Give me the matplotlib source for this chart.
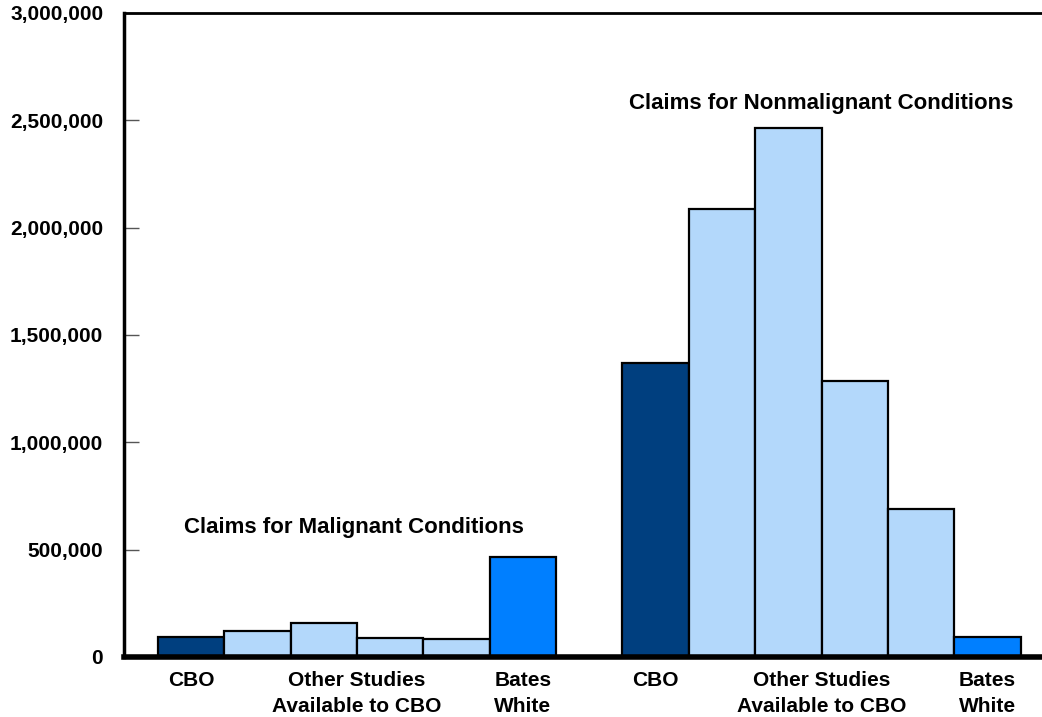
import matplotlib
matplotlib.use("Agg")
import matplotlib.pyplot as plt

# data
malignant = [95000, 120000, 160000, 90000, 85000, 465000]
nonmalignant = [1370000, 2087000, 2465000, 1286000, 689000, 93000]
bar_colors = ["#003F7F", "#B3D8FB", "#B3D8FB", "#B3D8FB", "#B3D8FB", "#007FFF"]
group_labels = ["CBO", "Other Studies\nAvailable to CBO", "Bates\nWhite"]
yticks = [0, 500000, 1000000, 1500000, 2000000, 2500000, 3000000]

plt.rcParams['font.family'] = ['Liberation Sans', 'DejaVu Sans']

fig = plt.figure(figsize=(10.42, 7.17), dpi=100)
ax = fig.add_axes([0.119, 0.0837, 0.881, 0.8982])

x1 = list(range(6))
x2 = [i + 7 for i in range(6)]
ax.bar(x1, malignant, width=1.0, color=bar_colors, edgecolor="black", linewidth=1.6, zorder=2)
ax.bar(x2, nonmalignant, width=1.0, color=bar_colors, edgecolor="black", linewidth=1.6, zorder=2)

ax.set_xlim(-1.01, 12.82)
ax.set_ylim(0, 3000000)

ax.set_yticks(yticks)
ax.set_yticklabels([f"{v:,}" for v in yticks], fontsize=15, fontweight="bold")
ax.tick_params(axis="y", direction="in", length=11, width=1, color="#555555", pad=15)

ax.set_xticks([0, 2.5, 5, 7, 9.5, 12])
ax.set_xticklabels(group_labels + group_labels, fontsize=15, fontweight="bold", linespacing=1.5)
ax.tick_params(axis="x", length=0, pad=10)

ax.spines["right"].set_visible(False)
ax.spines["top"].set_linewidth(2)
ax.spines["left"].set_linewidth(2.5)
ax.spines["bottom"].set_linewidth(4)
ax.spines["bottom"].set_zorder(3)

ax.text(2.46, 605000, "Claims for Malignant Conditions", ha="center", va="center",
        fontsize=16, fontweight="bold")
ax.text(9.49, 2580000, "Claims for Nonmalignant Conditions", ha="center", va="center",
        fontsize=16, fontweight="bold")

fig.savefig("out.png", dpi=100)
